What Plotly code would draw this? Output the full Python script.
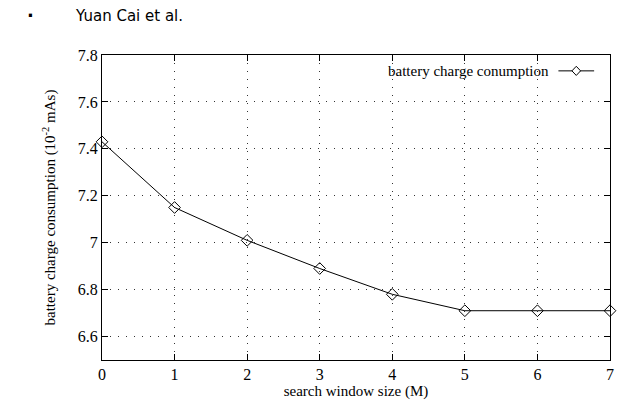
import plotly.graph_objects as go

window_size = [0, 1, 2, 3, 4, 5, 6, 7]
charge = [7.43, 7.15, 7.01, 6.89, 6.78, 6.71, 6.71, 6.71]
y_ticks = [6.6, 6.8, 7.0, 7.2, 7.4, 7.6, 7.8]
y_tick_text = ["6.6", "6.8", "7", "7.2", "7.4", "7.6", "7.8"]
x_ticks = [0, 1, 2, 3, 4, 5, 6, 7]
series_name = "battery charge conumption"

serif = "Liberation Serif, Times New Roman, serif"

fig = go.Figure()
fig.add_trace(go.Scatter(
    x=window_size, y=charge, mode="lines+markers", name=series_name,
    line=dict(color="black", width=1),
    marker=dict(symbol="diamond-open", size=9, color="black", line=dict(width=1)),
    showlegend=False, cliponaxis=False,
))

axis_common = dict(
    showline=True, linecolor="black", linewidth=1.3, mirror="allticks",
    ticks="inside", ticklen=6, tickcolor="black", tickwidth=1,
    showgrid=True, gridcolor="#333", gridwidth=1, griddash="1px,7px",
    zeroline=False, tickfont=dict(family=serif, size=16, color="black"),
)

fig.update_layout(
    width=620, height=404,
    margin=dict(l=102, r=6, t=55, b=44),
    paper_bgcolor="white", plot_bgcolor="white",
    xaxis=dict(range=[0, 7], tickvals=x_ticks,
               title=dict(text="search window size (M)", font=dict(family=serif, size=15, color="black"), standoff=2),
               **axis_common),
    yaxis=dict(range=[6.5, 7.8], tickvals=y_ticks, ticktext=y_tick_text,
               title=dict(text="battery charge consumption (10<sup>-2</sup> mAs)", font=dict(family=serif, size=15, color="black"), standoff=18),
               **axis_common),
    annotations=[
        dict(text="<b>·</b>", x=(30 - 102) / 512, y=1, xref="paper", yref="paper", xanchor="center", yanchor="middle",
             yshift=55 - 15, showarrow=False, font=dict(family="DejaVu Sans, sans-serif", size=18, color="black")),
        dict(text="Yuan Cai et al.", x=(73 - 102) / 512, y=1, xref="paper", yref="paper", xanchor="left", yanchor="middle",
             yshift=55 - 16, showarrow=False,
             font=dict(family="DejaVu Sans, sans-serif", size=15, color="black")),
        dict(text=series_name, x=(555 - 102) / 512, y=0.948, xref="paper", yref="paper", xanchor="right", yanchor="middle",
             showarrow=False, font=dict(family=serif, size=15, color="black")),
    ],
)

# legend sample (line + diamond) in paper coordinates
lx0, lx1, ly = (562 - 102) / 512, (598 - 102) / 512, 0.948
fig.add_shape(type="line", xref="paper", yref="paper", x0=lx0, x1=lx1, y0=ly, y1=ly,
              line=dict(color="black", width=1))
cx, dx, dy = (lx0 + lx1) / 2, 0.0085, 0.015
fig.add_shape(type="path", xref="paper", yref="paper",
              path=f"M {cx-dx} {ly} L {cx} {ly+dy} L {cx+dx} {ly} L {cx} {ly-dy} Z",
              line=dict(color="black", width=1), fillcolor="white")

fig.write_html("out.html")
